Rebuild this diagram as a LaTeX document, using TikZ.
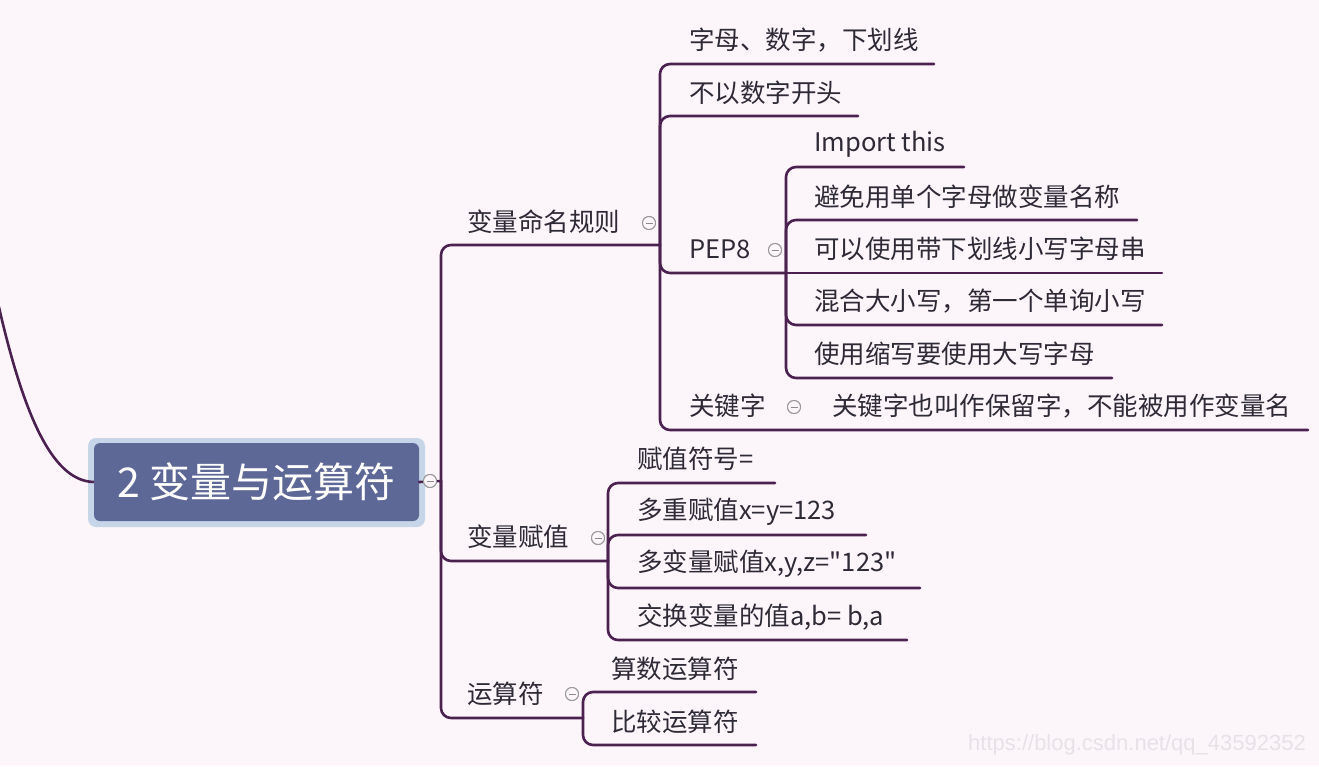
\documentclass[tikz,border=0pt]{standalone}
\usepackage{fontspec}
\newfontfamily\cjk{Noto Sans CJK SC}
\newfontfamily\wmfont{Liberation Sans}
\definecolor{bgc}{HTML}{FCF6FB}
\definecolor{linec}{HTML}{4B2150}
\definecolor{txtc}{HTML}{2E2A36}
\definecolor{rootfill}{HTML}{5E6896}
\definecolor{rootglow}{HTML}{C6D6E8}
\definecolor{wmc}{HTML}{E8E2E8}
\tikzset{
  topic/.style={anchor=west, inner sep=0pt, text=txtc, font=\cjk\fontsize{25.5}{30}\selectfont},
  branch/.style={draw=linec, line width=2.6pt, rounded corners=10pt, line cap=round},
  fold/.style={circle, draw=gray!80, fill=bgc, line width=1pt, minimum size=13pt, inner sep=0pt,
    path picture={\draw[gray!90, line width=1pt] ([xshift=-3.5pt]path picture bounding box.center) -- ([xshift=3.5pt]path picture bounding box.center);}},
}
\begin{document}
\begin{tikzpicture}[x=1pt,y=-1pt]
\fill[bgc] (0,0) rectangle (1319,766);
\useasboundingbox (0,0) rectangle (1319,766);

% root
\fill[rootglow, rounded corners=8pt] (88,438) rectangle (425,527);
\node[fill=rootfill, rounded corners=6pt, minimum width=325pt, minimum height=78pt, inner sep=0pt,
  text=white, font=\cjk\fontsize{41}{46}\selectfont] (root) at (256.5,482) {2 变量与运算符};
\coordinate (inbound) at (-6,285);
\draw[draw=linec, line width=2.6pt] (inbound) .. controls (22,415) and (52,481) .. (root.west);

% main spine
\coordinate (rootr) at (441,481);
\draw[branch] (root.east) -- (rootr);
\node[fold] (f0) at (430,481) {};

% level 1
\node[topic] (a) at (467,222) {变量命名规则};
\coordinate (ae) at (660,245);
\node[fold] (fa) at (649,223) {};
\node[topic] (b) at (467,537) {变量赋值};
\coordinate (be) at (608,561);
\node[fold] (fb) at (598,538) {};
\node[topic] (c) at (467,694) {运算符};
\coordinate (ce) at (583,718);
\node[fold] (fc) at (572,694) {};
\draw[branch] (rootr) |- (ae);
\draw[branch] (rootr) |- (be);
\draw[branch] (rootr) |- (ce);

% children of a
\node[topic] (a1) at (689,40) {字母、数字，下划线};
\coordinate (a1e) at (934,64);
\node[topic] (a2) at (689,93) {不以数字开头};
\coordinate (a2e) at (858,116);
\node[topic] (a3) at (689,249) {PEP8};
\coordinate (a3e) at (786,273);
\node[fold] (fa3) at (775,250) {};
\node[topic] (a4) at (689,406) {关键字};
\coordinate (a4e) at (1308,430);
\node[fold] (fa4) at (794,407) {};
\node[topic] (a41) at (832,406) {关键字也叫作保留字，不能被用作变量名};
\draw[branch] (ae) |- (a1e);
\draw[branch] (ae) |- (a2e);
\draw[branch] (ae) |- (a3e);
\draw[branch] (ae) |- (a4e);

% children of PEP8
\node[topic] (p1) at (814,144) {Import this};
\coordinate (p1e) at (964,167);
\node[topic] (p2) at (814,197) {避免用单个字母做变量名称};
\coordinate (p2e) at (1137,220);
\node[topic] (p3) at (814,249) {可以使用带下划线小写字母串};
\coordinate (p3e) at (1162,273);
\node[topic] (p4) at (814,301) {混合大小写，第一个单询小写};
\coordinate (p4e) at (1162,325);
\node[topic] (p5) at (814,354) {使用缩写要使用大写字母};
\coordinate (p5e) at (1112,378);
\draw[branch] (a3e) |- (p1e);
\draw[branch] (a3e) |- (p2e);
\draw[branch] (a3e) -- (p3e);
\draw[branch] (a3e) |- (p4e);
\draw[branch] (a3e) |- (p5e);

% children of b
\node[topic] (b1) at (637,459) {赋值符号=};
\coordinate (b1e) at (775,483);
\node[topic] (b2) at (637,512) {多重赋值x=y=123};
\coordinate (b2e) at (866,535);
\node[topic] (b3) at (637,564) {多变量赋值x,y,z="123"};
\coordinate (b3e) at (920,588);
\node[topic] (b4) at (637,617) {交换变量的值a,b= b,a};
\coordinate (b4e) at (907,640);
\draw[branch] (be) |- (b1e);
\draw[branch] (be) |- (b2e);
\draw[branch] (be) |- (b3e);
\draw[branch] (be) |- (b4e);

% children of c
\node[topic] (c1) at (611,669) {算数运算符};
\coordinate (c1e) at (756,692);
\node[topic] (c2) at (611,722) {比较运算符};
\coordinate (c2e) at (756,745);
\draw[branch] (ce) |- (c1e);
\draw[branch] (ce) |- (c2e);

% re-draw fold markers on top
\node[fold] at (f0) {};
\node[fold] at (fa) {};
\node[fold] at (fb) {};
\node[fold] at (fc) {};
\node[fold] at (fa3) {};
\node[fold] at (fa4) {};

% watermark
\node[anchor=east, inner sep=0pt, text=wmc, font=\wmfont\fontsize{22}{26}\selectfont] (wm) at (1306,745) {https://blog.csdn.net/qq\_43592352};
\end{tikzpicture}
\end{document}
